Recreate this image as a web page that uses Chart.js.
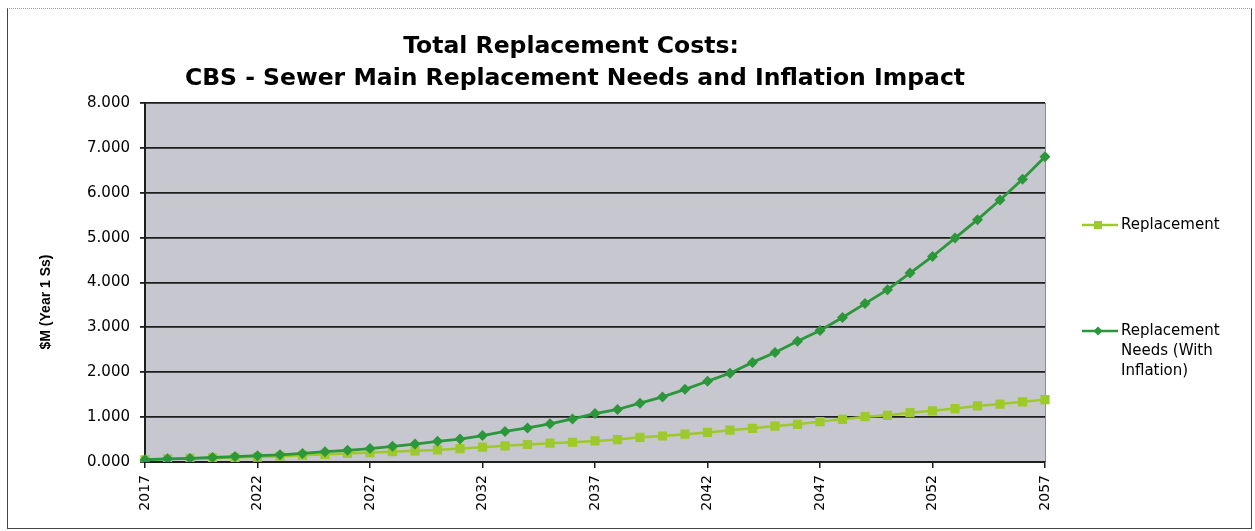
<!DOCTYPE html>
<html>
<head>
<meta charset="utf-8">
<title>Total Replacement Costs</title>
<script src="https://cdn.jsdelivr.net/npm/chart.js@4.4.1/dist/chart.umd.min.js"></script>
<style>
    html, body { margin: 0; padding: 0; background: #fff; }
    #wrap { position: relative; width: 1255px; height: 531px; }
    #frame {
        position: absolute; left: 7px; top: 8px; width: 1243px; height: 519px;
        border: 1px solid #444; border-top: 1px dotted #9a9a9a;
        pointer-events: none;
    }
</style>
</head>
<body>
<div id="wrap">
    <canvas id="costChart"></canvas>
    <div id="frame"></div>
</div>
<script>
// Years on the category axis
const years = [];
for (let y = 2017; y <= 2057; y++) years.push(String(y));

// $M
const replacement = [
    0.05, 0.07, 0.08, 0.09, 0.10, 0.11, 0.13, 0.15, 0.17, 0.19,
    0.21, 0.23, 0.25, 0.27, 0.30, 0.33, 0.36, 0.39, 0.42, 0.44,
    0.47, 0.50, 0.55, 0.58, 0.62, 0.66, 0.71, 0.75, 0.80, 0.84,
    0.90, 0.95, 1.01, 1.04, 1.10, 1.14, 1.19, 1.25, 1.29, 1.34,
    1.39
];
const withInflation = [
    0.05, 0.07, 0.08, 0.10, 0.12, 0.14, 0.16, 0.19, 0.23, 0.26,
    0.30, 0.35, 0.40, 0.46, 0.51, 0.59, 0.68, 0.76, 0.85, 0.96,
    1.08, 1.17, 1.31, 1.45, 1.62, 1.80, 1.98, 2.22, 2.44, 2.69,
    2.93, 3.22, 3.53, 3.84, 4.21, 4.58, 4.99, 5.40, 5.84, 6.30,
    6.80
];

const titleLines = ['Total Replacement Costs:', 'CBS - Sewer Main Replacement Needs and Inflation Impact'];
const yTitle = '$M (Year 1 Ss)';
const seriesNames = ['Replacement', ['Replacement', 'Needs (With', 'Inflation)']];

const lightGreen = '#9dc92b';
const darkGreen = '#2b973a';
const plotFill = '#c7c7cf';
const gridColor = '#1e1e1e';

Chart.defaults.font.family = "'DejaVu Sans', sans-serif";
Chart.defaults.color = '#000';

// plot background, title, y title and the legend on the right
const decor = {
    id: 'decor',
    beforeDraw(chart) {
        const { ctx, chartArea: a } = chart;
        ctx.save();
        ctx.fillStyle = plotFill;
        ctx.fillRect(a.left, a.top, a.right - a.left, a.bottom - a.top);
        ctx.strokeStyle = '#8c8c8c';
        ctx.lineWidth = 1;
        ctx.beginPath();
        ctx.moveTo(a.right + 0.5, a.top);
        ctx.lineTo(a.right + 0.5, a.bottom);
        ctx.stroke();
        ctx.restore();
    },
    afterDraw(chart) {
        const ctx = chart.ctx;
        ctx.save();
        ctx.fillStyle = '#000';
        ctx.textAlign = 'center';
        ctx.textBaseline = 'middle';

        // title
        ctx.font = "bold 23.5px 'DejaVu Sans'";
        ctx.fillText(titleLines[0], 571, 47);
        ctx.fillText(titleLines[1], 575, 79);

        // y axis title
        ctx.font = "bold 14px 'Liberation Sans'";
        ctx.translate(46, 302);
        ctx.rotate(-Math.PI / 2);
        ctx.fillText(yTitle, 0, 0);
        ctx.setTransform(1, 0, 0, 1, 0, 0);

        // legend
        ctx.font = "15px 'DejaVu Sans'";
        ctx.textAlign = 'left';
        ctx.lineWidth = 2.5;

        ctx.strokeStyle = lightGreen;
        ctx.beginPath();
        ctx.moveTo(1082, 225);
        ctx.lineTo(1118, 225);
        ctx.stroke();
        ctx.fillStyle = lightGreen;
        ctx.fillRect(1094, 221, 8, 8);
        ctx.fillStyle = '#000';
        ctx.fillText(seriesNames[0], 1121, 225);

        ctx.strokeStyle = darkGreen;
        ctx.beginPath();
        ctx.moveTo(1082, 331);
        ctx.lineTo(1118, 331);
        ctx.stroke();
        ctx.fillStyle = darkGreen;
        ctx.beginPath();
        ctx.moveTo(1098, 326.5);
        ctx.lineTo(1102.5, 331);
        ctx.lineTo(1098, 335.5);
        ctx.lineTo(1093.5, 331);
        ctx.closePath();
        ctx.fill();
        ctx.fillStyle = '#000';
        seriesNames[1].forEach((line, i) => ctx.fillText(line, 1121, 331 + i * 20));

        ctx.restore();
    }
};

const ctx = document.getElementById('costChart').getContext('2d');
const costChart = new Chart(ctx, {
    type: 'line',
    data: {
        labels: years,
        datasets: [
            {
                label: 'Replacement',
                data: replacement,
                borderColor: lightGreen,
                backgroundColor: lightGreen,
                borderWidth: 2.5,
                pointStyle: 'rect',
                pointRadius: 6.5,
                pointBorderWidth: 0,
                order: 2
            },
            {
                label: 'Replacement Needs (With Inflation)',
                data: withInflation,
                borderColor: darkGreen,
                backgroundColor: darkGreen,
                borderWidth: 2.8,
                pointStyle: 'rectRot',
                pointRadius: 5.5,
                pointBorderWidth: 0,
                order: 1
            }
        ]
    },
    options: {
        responsive: true,
        maintainAspectRatio: false,
        animation: false,
        layout: { padding: { top: 103, right: 210, left: 0, bottom: 0 } },
        elements: { line: { tension: 0 } },
        plugins: {
            legend: { display: false },
            title: { display: false },
            tooltip: { enabled: false }
        },
        scales: {
            x: {
                type: 'category',
                offset: false,
                afterFit(scale) { scale.height = 69; },
                border: { color: gridColor, width: 2 },
                grid: {
                    drawOnChartArea: false,
                    tickLength: 6,
                    lineWidth: 1.5,
                    color: c => (c.index % 5 === 0 ? gridColor : 'rgba(0,0,0,0)')
                },
                ticks: {
                    autoSkip: false,
                    minRotation: 90,
                    maxRotation: 90,
                    padding: 7,
                    font: { size: 14 },
                    callback(val, i) {
                        return i % 5 === 0 ? this.getLabelForValue(val) : '';
                    }
                }
            },
            y: {
                min: 0,
                max: 8,
                afterFit(scale) { scale.width = 145; },
                border: { color: gridColor, width: 2 },
                grid: { color: gridColor, lineWidth: 1.8, tickLength: 5 },
                ticks: {
                    stepSize: 1,
                    padding: 10,
                    font: { size: 15 },
                    callback: v => v.toFixed(3)
                }
            }
        }
    },
    plugins: [decor]
});
</script>
</body>
</html>
